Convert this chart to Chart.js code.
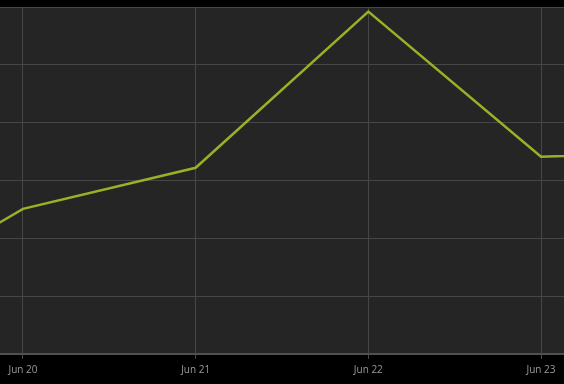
<!DOCTYPE html>
<html>
<head>
<meta charset="utf-8">
<script src="https://cdn.jsdelivr.net/npm/chart.js@4"></script>
<style>
  html, body { margin: 0; padding: 0; background: #000; }
  #wrap { width: 564px; height: 384px; }
</style>
</head>
<body>
<div id="wrap"><canvas id="chart" width="564" height="384"></canvas></div>
<script>
// data (y in arbitrary units, no y labels shown)
const days = ['Jun 19', 'Jun 20', 'Jun 21', 'Jun 22', 'Jun 23', 'Jun 24'];
const values = [0.75, 2.51, 3.22, 5.92, 3.41, 3.52];
const tickLabels = ['Jun 20', 'Jun 21', 'Jun 22', 'Jun 23'];

// day index: Jun 20 = 0
const points = values.map((v, i) => ({ x: i - 1, y: v }));

// fill the plot area dark grey
const plotBg = {
    id: 'plotBg',
    beforeDraw(c) {
        const a = c.chartArea;
        c.ctx.save();
        c.ctx.fillStyle = '#252525';
        c.ctx.fillRect(a.left, a.top, a.right - a.left, a.bottom - a.top);
        c.ctx.restore();
    }
};

const chart = document.querySelector('#chart').getContext('2d');

new Chart(chart, {
    type: 'line',
    data: {
        datasets: [{
            data: points,
            borderColor: '#9bb026',
            borderWidth: 2.5,
            pointRadius: 0,
            tension: 0,
            clip: false
        }]
    },
    options: {
        responsive: false,
        animation: false,
        layout: { padding: { top: 7, left: 0, right: 0, bottom: 0 } },
        plugins: { legend: { display: false }, tooltip: { enabled: false } },
        scales: {
            x: {
                type: 'linear',
                min: -0.133,
                max: 3.133,
                grid: { color: '#464646', lineWidth: 1, tickLength: 5 },
                border: { color: '#505050', width: 2 },
                ticks: {
                    stepSize: 1,
                    includeBounds: false,
                    maxRotation: 0,
                    padding: 5,
                    color: '#9a9a9a',
                    font: { family: 'Open Sans', size: 10 },
                    callback: v => tickLabels[v] ?? ''
                },
                afterFit(s) { s.height = 30; }
            },
            y: {
                min: 0,
                max: 6,
                grid: { color: '#464646', lineWidth: 1, drawTicks: false },
                border: { display: false },
                ticks: { display: false, stepSize: 1 },
                afterFit(s) { s.width = 0; }
            }
        }
    },
    plugins: [plotBg]
});
</script>
</body>
</html>
